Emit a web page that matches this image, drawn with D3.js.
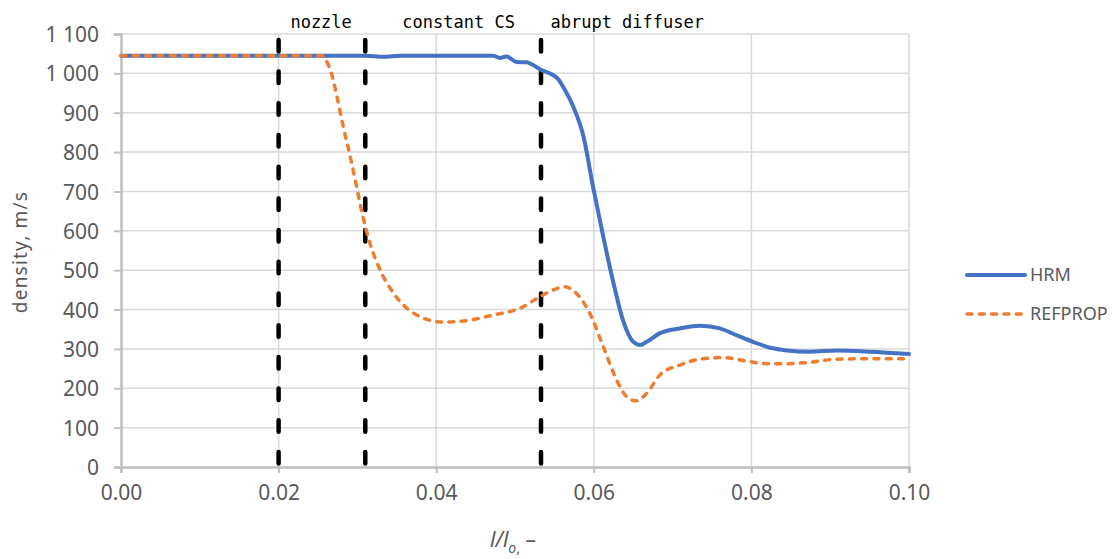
<!DOCTYPE html>
<html><head><meta charset="utf-8">
<script src="https://cdn.jsdelivr.net/npm/d3@7"></script>
<style>body{margin:0;background:#fff}svg{display:block}</style>
</head><body><svg id="c" width="1113" height="559"></svg>
<script>
const xTicks = [0, 0.02, 0.04, 0.06, 0.08, 0.10];
const yTicks = [0,100,200,300,400,500,600,700,800,900,1000,1100];
const hrmX = [0,0.020,0.031,0.0333,0.0355,0.0472,0.0481,0.0489,0.0502,0.0515,0.0523,0.0532,0.0544,0.0555,0.0561,0.0574,0.0587,0.0599,0.0612,0.0625,0.0637,0.0650,0.0659,0.0667,0.0684,0.0709,0.0735,0.0760,0.0781,0.0802,0.0824,0.0845,0.0874,0.0908,0.0951,0.1];
const hrmY = [1045,1045,1045,1042,1045,1045,1039,1043,1029,1028,1021,1010,1000,985,966,915,839,712,585,467,373,318,310,318,340,352,359,352,335,318,303,296,293,296,293,287];
const refX = [0,0.020,0.0255,0.0261,0.0267,0.0274,0.0282,0.0291,0.0299,0.0307,0.0316,0.0329,0.0346,0.0363,0.0384,0.0409,0.0439,0.0472,0.0506,0.0532,0.0549,0.0563,0.0578,0.0595,0.0612,0.0629,0.0642,0.0654,0.0667,0.0684,0.0709,0.0735,0.0764,0.0794,0.0815,0.0841,0.0874,0.0908,0.0951,0.1];
const refY = [1045,1045,1045,1030,1000,941,865,788,712,636,568,500,441,403,378,368,372,386,403,433,450,458,441,390,306,221,178,168,187,234,259,274,278,269,263,262,266,274,275,275];
const zoneX = [0.02, 0.031, 0.0533];
const zoneTop = 1085;
const zoneLabels = ["nozzle", "constant CS", "abrupt diffuser"];
const zoneLabelX = [0.0215, 0.0357, 0.0545];
const seriesNames = ["HRM", "REFPROP"];

const svg = d3.select("#c");
const x = d3.scaleLinear().domain([0, 0.1]).range([121, 909]);
const y = d3.scaleLinear().domain([0, 1100]).range([467, 34]);
const font = "'Noto Sans', 'Open Sans', sans-serif";
const txt = "#595959";

// gridlines
svg.append("g").selectAll("line").data(yTicks.slice(1)).join("line")
  .attr("x1", x(0)).attr("x2", x(0.1)).attr("y1", d => y(d)).attr("y2", d => y(d))
  .attr("stroke", "#d9d9d9").attr("stroke-width", 1.5);
svg.append("g").selectAll("line").data(xTicks.slice(1)).join("line")
  .attr("x1", d => x(d)).attr("x2", d => x(d)).attr("y1", y(0)).attr("y2", y(1100))
  .attr("stroke", "#d9d9d9").attr("stroke-width", 1.5);

// axes
const xa = svg.append("g").attr("transform", `translate(0,${y(0)})`)
  .call(d3.axisBottom(x).tickValues(xTicks).tickFormat(d3.format(".2f")).tickSize(6).tickPadding(12));
const ya = svg.append("g").attr("transform", `translate(${x(0)},0)`)
  .call(d3.axisLeft(y).tickValues(yTicks).tickFormat(d => d >= 1000 ? d3.format(",")(d).replace(",", " ") : d).tickSize(7).tickPadding(15));
[xa, ya].forEach(a => {
  a.select(".domain").attr("stroke", "#bfbfbf").attr("stroke-width", 2.5);
  a.selectAll(".tick line").attr("stroke", "#bfbfbf").attr("stroke-width", 2);
  a.selectAll(".tick text").attr("fill", txt).attr("font-family", font).attr("font-size", 21);
});
ya.selectAll(".tick text").attr("dy", "0.36em");

// zone lines
svg.append("g").selectAll("line").data(zoneX).join("line")
  .attr("x1", d => x(d)).attr("x2", d => x(d)).attr("y1", y(zoneTop)).attr("y2", y(0))
  .attr("stroke", "#000").attr("stroke-width", 4.5).attr("stroke-linecap", "round")
  .attr("stroke-dasharray", "11.5 20.2");
svg.append("g").selectAll("text").data(zoneLabels).join("text")
  .attr("x", (d, i) => x(zoneLabelX[i])).attr("y", 28)
  .attr("font-family", "'DejaVu Sans Mono', monospace").attr("font-size", 17).attr("fill", "#000")
  .text(d => d);

// series
const line = d3.line().x(d => x(d[0])).y(d => y(d[1])).curve(d3.curveMonotoneX);
const refData = refX.map((v, i) => [v, refY[i]]);
const hrmData = hrmX.map((v, i) => [v, hrmY[i]]);
svg.append("path").datum(hrmData).attr("d", line).attr("fill", "none")
  .attr("stroke", "#4472C4").attr("stroke-width", 4).attr("stroke-linecap", "round").attr("stroke-linejoin", "round");
svg.append("path").datum(refData).attr("d", line).attr("fill", "none")
  .attr("stroke", "#ED7D31").attr("stroke-width", 3.5).attr("stroke-linecap", "round").attr("stroke-dasharray", "5 7.3");

// legend
const lg = svg.append("g");
const legY = [275, 314];
lg.selectAll("line").data(seriesNames).join("line")
  .attr("x1", 967).attr("x2", 1025).attr("y1", (d, i) => legY[i]).attr("y2", (d, i) => legY[i])
  .attr("stroke", (d, i) => i ? "#ED7D31" : "#4472C4")
  .attr("stroke-width", (d, i) => i ? 3.5 : 4)
  .attr("stroke-dasharray", (d, i) => i ? "5 7.3" : null)
  .attr("stroke-linecap", "round");
lg.selectAll("text").data(seriesNames).join("text")
  .attr("x", 1030).attr("y", (d, i) => legY[i]).attr("dy", "0.36em")
  .attr("font-family", font).attr("font-size", 18).attr("fill", txt).text(d => d);

// axis titles
svg.append("text").attr("transform", "translate(27,252) rotate(-90)")
  .attr("text-anchor", "middle").attr("font-family", font).attr("font-size", 19)
  .attr("letter-spacing", 1.2).attr("fill", txt)
  .text("density, m/s");
const xt = svg.append("text").attr("x", 513).attr("y", 547).attr("text-anchor", "middle")
  .attr("font-family", font).attr("font-size", 21).attr("fill", txt);
xt.append("tspan").attr("font-style", "italic").text("l/l");
xt.append("tspan").attr("font-style", "italic").attr("font-size", 14).attr("dy", 6).text("o");
xt.append("tspan").attr("font-size", 14).text(",");
xt.append("tspan").attr("dy", -6).text("  –");
</script></body></html>
